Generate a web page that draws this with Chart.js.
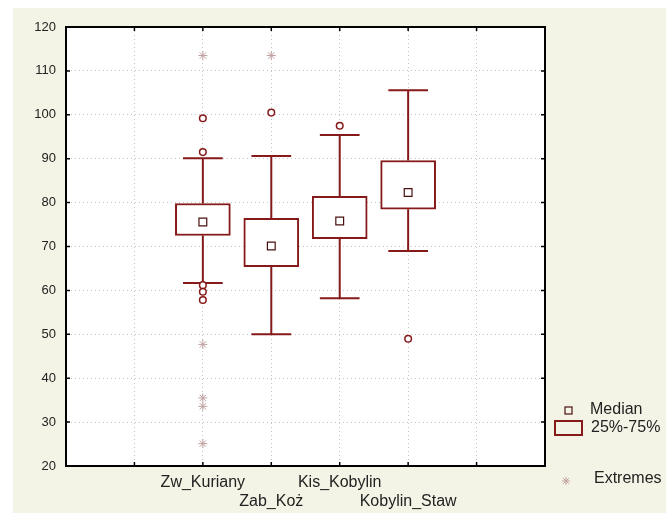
<!DOCTYPE html>
<html>
<head>
<meta charset="utf-8">
<script src="https://cdn.jsdelivr.net/npm/chart.js@4/dist/chart.umd.min.js"></script>
<style>
  html, body { margin: 0; padding: 0; background: #fff; }
  #wrap { width: 666px; height: 513px; }
</style>
</head>
<body>
<div id="wrap"><canvas id="boxChart"></canvas></div>
<script>
// data
const categories = ['Zw_Kuriany', 'Zab_Koż', 'Kis_Kobylin', 'Kobylin_Staw'];
const q1 = [72.5, 65.4, 71.8, 78.5];
const q3 = [79.8, 76.4, 81.4, 89.6];
const medians = [75.6, 70.1, 75.8, 82.3];
const whiskerLow = [61.7, 50.0, 58.2, 69.0];
const whiskerHigh = [90.1, 90.6, 95.4, 105.6];
const outliers = [[99.2, 91.5, 61.2, 59.7, 57.8], [100.5], [97.5], [49.0]];
const extremes = [[113.5, 47.7, 35.5, 33.6, 25.1], [113.5], [], []];
const yMin = 20, yMax = 120, yStep = 10;

const MAROON = '#861a1a';
const firstSlot = 2; // boxes sit on the 2nd..5th of 7 slots
const capHalf = 0.29;

// whiskers + caps as one broken line
const whiskerPts = [];
categories.forEach((c, i) => {
    const x = i + firstSlot;
    whiskerPts.push({ x: x, y: q3[i] }, { x: x, y: whiskerHigh[i] }, { x: x, y: null });
    whiskerPts.push({ x: x, y: q1[i] }, { x: x, y: whiskerLow[i] }, { x: x, y: null });
    whiskerPts.push({ x: x - capHalf, y: whiskerHigh[i] }, { x: x + capHalf, y: whiskerHigh[i] }, { x: x, y: null });
    whiskerPts.push({ x: x - capHalf, y: whiskerLow[i] }, { x: x + capHalf, y: whiskerLow[i] }, { x: x, y: null });
});

const outlierPts = [];
outliers.forEach((arr, i) => arr.forEach((v) => outlierPts.push({ x: i + firstSlot, y: v })));
const extremePts = [];
extremes.forEach((arr, i) => arr.forEach((v) => extremePts.push({ x: i + firstSlot, y: v })));

const framePlugin = {
    id: 'frame',
    beforeDraw(chart) {
        const { ctx, chartArea: a } = chart;
        ctx.save();
        ctx.fillStyle = '#f4f4e6';
        ctx.fillRect(13, 8, chart.width, chart.height);
        ctx.fillStyle = '#ffffff';
        ctx.fillRect(a.left, a.top, a.right - a.left, a.bottom - a.top);
        ctx.restore();
    },
    afterDraw(chart) {
        const { ctx, chartArea: a, scales } = chart;
        ctx.save();
        ctx.strokeStyle = '#000';
        ctx.lineWidth = 2;
        ctx.strokeRect(a.left, a.top, a.right - a.left, a.bottom - a.top);
        // small inward tick marks
        ctx.lineWidth = 1.5;
        ctx.beginPath();
        scales.y.ticks.forEach((t) => {
            const y = scales.y.getPixelForValue(t.value);
            ctx.moveTo(a.left, y); ctx.lineTo(a.left + 4, y);
            ctx.moveTo(a.right, y); ctx.lineTo(a.right - 4, y);
        });
        scales.x.ticks.forEach((t) => {
            const x = scales.x.getPixelForValue(t.value);
            ctx.moveTo(x, a.bottom); ctx.lineTo(x, a.bottom - 4);
            ctx.moveTo(x, a.top); ctx.lineTo(x, a.top + 4);
        });
        ctx.stroke();

        // legend at the right
        ctx.font = '16px "Liberation Sans", Arial, sans-serif';
        ctx.fillStyle = '#222';
        ctx.textBaseline = 'middle';
        ctx.textAlign = 'left';
        ctx.strokeStyle = '#4a1010';
        ctx.lineWidth = 1.2;
        ctx.strokeRect(565, 407, 7, 7);
        ctx.fillText('Median', 590, 410);
        ctx.strokeStyle = MAROON;
        ctx.lineWidth = 2;
        ctx.strokeRect(555, 421, 27, 14);
        ctx.fillText('25%-75%', 591, 428);
        ctx.strokeStyle = '#c0a0a0';
        ctx.lineWidth = 1;
        Chart.helpers.drawPoint(ctx, { pointStyle: 'star', radius: 4, borderWidth: 1 }, 566, 481);
        ctx.fillText('Extremes', 594, 479);
        ctx.restore();
    }
};

const ctx = document.getElementById('boxChart').getContext('2d');
new Chart(ctx, {
    type: 'bar',
    data: {
        datasets: [
            {
                type: 'scatter',
                label: 'Median',
                data: medians.map((v, i) => ({ x: i + firstSlot, y: v })),
                pointStyle: 'rect',
                pointRadius: 5.5,
                backgroundColor: '#ffffff',
                borderColor: '#4a1010',
                borderWidth: 1.2,
                order: 0,
            },
            {
                type: 'scatter',
                label: 'Outliers',
                data: outlierPts,
                pointStyle: 'circle',
                pointRadius: 3.3,
                backgroundColor: '#ffffff',
                borderColor: MAROON,
                borderWidth: 1.5,
                order: 1,
            },
            {
                type: 'scatter',
                label: 'Extremes',
                data: extremePts,
                pointStyle: 'star',
                pointRadius: 4.5,
                backgroundColor: 'transparent',
                borderColor: '#c0a0a0',
                borderWidth: 1,
                order: 1,
            },
            {
                type: 'bar',
                label: '25%-75%',
                data: q1.map((v, i) => ({ x: i + firstSlot, y: [v, q3[i]] })),
                backgroundColor: '#ffffff',
                borderColor: MAROON,
                borderWidth: 2,
                borderSkipped: false,
                barThickness: 55,
                order: 2,
            },
            {
                type: 'line',
                label: 'Whiskers',
                data: whiskerPts,
                borderColor: MAROON,
                borderWidth: 2,
                pointRadius: 0,
                spanGaps: false,
                order: 3,
            },
        ],
    },
    options: {
        responsive: true,
        maintainAspectRatio: false,
        animation: false,
        layout: { padding: { left: 0, top: 27, right: 121, bottom: 0 } },
        plugins: {
            legend: { display: false },
            tooltip: { enabled: false },
        },
        scales: {
            x: {
                type: 'linear',
                min: 0,
                max: categories.length + 3,
                offset: false,
                grid: { offset: false, color: '#c4c4c4', drawTicks: false },
                border: { display: true, color: '#000', width: 2, dash: [1, 3] },
                ticks: {
                    stepSize: 1,
                    autoSkip: false,
                    maxRotation: 0,
                    padding: 7,
                    color: '#222',
                    font: { family: '"Liberation Sans", Arial, sans-serif', size: 16, lineHeight: 1.2 },
                    callback: (value) => {
                        const i = value - firstSlot;
                        if (i < 0 || i >= categories.length) return '';
                        return i % 2 === 0 ? categories[i] : ['', categories[i]];
                    },
                },
                afterFit: (scale) => { scale.height = 47; },
            },
            y: {
                min: yMin,
                max: yMax,
                grid: { color: '#c4c4c4', drawTicks: false },
                border: { display: true, color: '#000', width: 2, dash: [1, 3] },
                ticks: {
                    stepSize: yStep,
                    padding: 10,
                    color: '#222',
                    font: { family: '"Liberation Sans", Arial, sans-serif', size: 13 },
                },
                afterFit: (scale) => { scale.width = 66; },
            },
        },
    },
    plugins: [framePlugin],
});
</script>
</body>
</html>
